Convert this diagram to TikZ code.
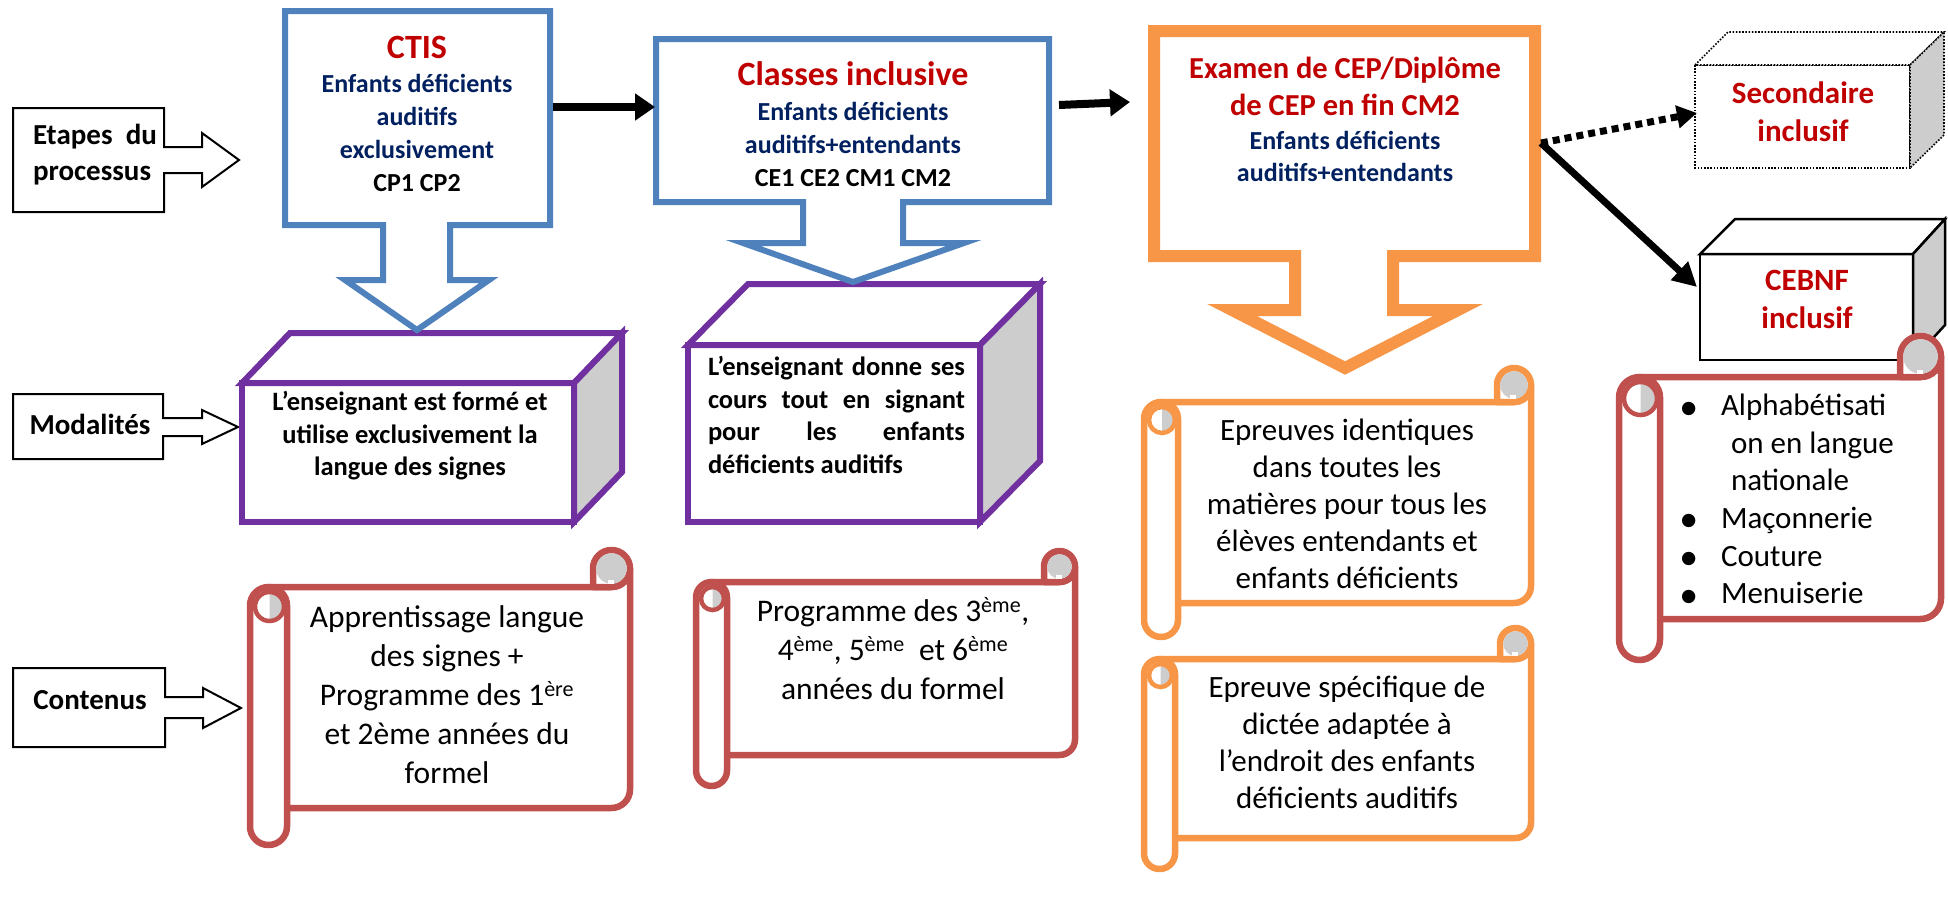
\documentclass[tikz,border=0pt]{standalone}
\usepackage{fontspec}
\setmainfont{Carlito}
\newfontfamily\dejavu{DejaVu Sans}
\usetikzlibrary{arrows.meta}
\definecolor{scrred}{HTML}{C0504D}
\definecolor{scrorange}{HTML}{F79646}
\definecolor{callblue}{HTML}{4F81BD}
\definecolor{boxpurple}{HTML}{7030A0}
\definecolor{titlered}{HTML}{C00000}
\definecolor{textblue}{HTML}{002060}
\definecolor{sidegray}{HTML}{CDCDCD}
\newcommand{\fsz}[2]{\fontsize{#1}{#2}\selectfont}
\tikzset{
  every node/.style={inner sep=0pt, outer sep=0pt},
  labelbox/.style={draw=black, line width=2pt, fill=white, line join=miter},
  labeltxt/.style={font=\fsz{29}{36}\bfseries},
  bluecall/.style={draw=callblue, line width=6pt, fill=white, line join=miter},
  orangecall/.style={draw=scrorange, line width=12pt, fill=white, line join=miter},
  purpleface/.style={draw=boxpurple, line width=6pt, fill=white, line join=miter},
  purpleside/.style={draw=boxpurple, line width=6pt, fill=sidegray, line join=miter},
  cubeface/.style={draw=black, line width=2.5pt, fill=white, line join=miter},
  cubeside/.style={draw=black, line width=2.5pt, fill=sidegray, line join=miter},
  dotface/.style={draw=black, line width=1.6pt, fill=white, dash pattern=on 1.6pt off 1.6pt},
  dotside/.style={draw=black, line width=1.6pt, fill=sidegray, dash pattern=on 1.6pt off 1.6pt},
  scrollline/.style={draw=#1, line width=6.5pt, fill=white, line join=round},
  scrollgray/.style={fill=sidegray},
  bigarrow/.style={line width=8pt, -{Triangle[length=20pt,width=26pt]}},
  diagarrow/.style={line width=7pt, -{Triangle[length=24pt,width=24pt]}},
  dotarrow/.style={line width=7pt, dash pattern=on 7pt off 5pt, -{Triangle[length=20pt,width=22pt]}},
  titletxt/.style={font=\fsz{34}{40}\bfseries, text=titlered, align=center},
  bluetxt/.style={font=\fsz{26}{33}\bfseries, text=textblue, align=center},
  redtxt/.style={font=\fsz{31}{38}\bfseries, text=titlered, align=center},
  purpletxt/.style={font=\fsz{26.5}{32.5}\bfseries, align=center},
  scrolltxt/.style={font=\fsz{31.5}{39}, align=center},
  scrolltxtb/.style={font=\fsz{31}{37}, align=center},
}
\newcommand{\bul}{\makebox[48pt][l]{\hspace*{8pt}\raisebox{2.5pt}{\dejavu\fontsize{17.5}{19}\selectfont ●}}}
% l t r b c colour
\newcommand{\drawscroll}[6]{%
  \pgfmathsetmacro{\scrH}{#5/2}%
  \filldraw[scrollline=#6] ({#1+\scrH},{#2+#5}) -- ({#3-\scrH},{#2+#5})
     arc[start angle=90,end angle=0,radius=\scrH] -- (#3,{#4-#5-\scrH})
     arc[start angle=0,end angle=90,radius=\scrH] -- ({#1+\scrH},{#4-#5}) -- cycle;
  \filldraw[scrollline=#6] ({#3-#5},{#2+#5}) -- ({#3-#5},{#2+\scrH})
     arc[start angle=180,end angle=450,radius=\scrH] -- cycle;
  \fill[scrollgray] ({#3-\scrH},{#2+\scrH}) circle[radius={\scrH-3.2}];
  \fill[white] ({#3-\scrH-4},{#2+#5-7}) rectangle ({#3-\scrH+2},{#2+#5-3.5});
  \filldraw[scrollline=#6, rounded corners={\scrH pt}] (#1,{#2+#5}) rectangle ({#1+#5},#4);
  \fill[scrollgray] ({#1+\scrH+1},{#2+#5+\scrH+1-(\scrH-5.5)})
     arc[start angle=270,end angle=450,radius={\scrH-5.5}] -- cycle;
  \draw[draw=#6, line width=4.5pt] ({#1+\scrH+1},{#2+#5+\scrH+1}) circle[radius={\scrH-4}];
}
\begin{document}
\begin{tikzpicture}[x=1pt,y=-1pt]
\useasboundingbox (0,0) rectangle (1948,902);

% ---------- left labels ----------
\filldraw[labelbox] (13,108) -- (164,108) -- (164,147) -- (202,147) -- (202,133) -- (239,160)
   -- (202,187) -- (202,173) -- (164,173) -- (164,212) -- (13,212) -- cycle;
\node[labeltxt, anchor=west, align=left] (etapes) at (33,155) {\makebox[124pt][s]{Etapes du}\\processus};

\filldraw[labelbox] (13,394) -- (163,394) -- (163,418) -- (202,418) -- (202,410) -- (238,427)
   -- (202,444) -- (202,436) -- (163,436) -- (163,459) -- (13,459) -- cycle;
\node[labeltxt] (modal) at (90,424) {Modalités};

\filldraw[labelbox] (13,668) -- (165,668) -- (165,697) -- (203,697) -- (203,688) -- (241,708)
   -- (203,728) -- (203,718) -- (165,718) -- (165,747) -- (13,747) -- cycle;
\node[labeltxt] (contenus) at (90,700) {Contenus};

% ---------- purple boxes ----------
\filldraw[purpleface] (242,383) rectangle (574,522);
\filldraw[purpleface] (242,383) -- (290,333) -- (622,333) -- (574,383) -- cycle;
\filldraw[purpleside] (574,383) -- (622,333) -- (622,472) -- (574,522) -- cycle;
\node[purpletxt] (mod1) at (410,436) {L’enseignant est formé et\\utilise exclusivement la\\langue des signes};

\filldraw[purpleface] (688,345) rectangle (980,522);
\filldraw[purpleface] (688,345) -- (748,284) -- (1040,284) -- (980,345) -- cycle;
\filldraw[purpleside] (980,345) -- (1040,284) -- (1040,461) -- (980,522) -- cycle;
\node[purpletxt, align=left, anchor=west] (mod2) at (708,415)
  {\makebox[257pt][s]{L’enseignant donne ses}\\\makebox[257pt][s]{cours tout en signant}\\\makebox[257pt][s]{pour les enfants}\\déficients auditifs};

% ---------- callouts ----------
\filldraw[bluecall] (285,11) -- (550,11) -- (550,225) -- (450,225) -- (450,280) -- (489,280)
   -- (417,330) -- (345,280) -- (383,280) -- (383,225) -- (285,225) -- cycle;
\node[titletxt] (ctisT) at (417,47) {CTIS};
\node[bluetxt] (ctisB) at (417,133) {Enfants déficients\\auditifs\\exclusivement\\\textcolor{black}{CP1 CP2}};

\filldraw[bluecall] (656,39) -- (1049,39) -- (1049,202) -- (903,202) -- (903,243) -- (964,243)
   -- (853,282) -- (743,243) -- (803,243) -- (803,202) -- (656,202) -- cycle;
\node[titletxt] (clsT) at (853,74) {Classes inclusive};
\node[bluetxt] (clsB) at (853,144) {Enfants déficients\\auditifs+entendants\\\textcolor{black}{CE1 CE2 CM1 CM2}};

\filldraw[orangecall] (1154,31) -- (1535,31) -- (1535,256) -- (1393,256) -- (1393,310) -- (1458,310)
   -- (1345,368) -- (1232,310) -- (1295,310) -- (1295,256) -- (1154,256) -- cycle;
\node[font=\fsz{30.5}{37}\bfseries, text=titlered, align=center] (exT) at (1345,86) {Examen de CEP/Diplôme\\de CEP en fin CM2};
\node[font=\fsz{26}{32}\bfseries, text=textblue, align=center] (exB) at (1345,156) {Enfants déficients\\auditifs+entendants};

% ---------- cubes ----------
\filldraw[dotface] (1695,65) rectangle (1910,168);
\filldraw[dotface] (1695,65) -- (1728,32) -- (1944,32) -- (1910,65) -- cycle;
\filldraw[dotside] (1910,65) -- (1944,32) -- (1944,135) -- (1910,168) -- cycle;
\node[redtxt] (secT) at (1803,112) {Secondaire\\inclusif};

\filldraw[cubeface] (1700,254) rectangle (1913,360);
\filldraw[cubeface] (1700,254) -- (1735,219) -- (1945,219) -- (1913,254) -- cycle;
\filldraw[cubeside] (1913,254) -- (1945,219) -- (1945,325) -- (1913,360) -- cycle;
\node[redtxt] (cebT) at (1807,299) {CEBNF\\inclusif};

% ---------- connectors ----------
\coordinate (ctisR) at (553,107);
\coordinate (clsL) at (655,107);
\coordinate (clsR) at (1059,105);
\coordinate (exL) at (1130,102);
\coordinate (exR) at (1541,143);
\coordinate (secL) at (1697,113);
\coordinate (cebL) at (1697,287);
\draw[bigarrow] (ctisR) -- (clsL);
\draw[bigarrow] (clsR) -- (exL);
\draw[dotarrow] (exR) -- (secL);
\draw[diagarrow] (exR) -- (cebL);

% ---------- scrolls ----------
\drawscroll{250}{550}{630}{845}{37}{scrred}
\node[scrolltxt] (cont1) at (447,695) {Apprentissage langue\\des signes +\\Programme des 1\textsuperscript{ère}\\et 2ème années du\\formel};

\drawscroll{696}{551}{1075}{786}{31}{scrred}
\node[scrolltxt] (cont2) at (893,649) {Programme des 3\textsuperscript{ème},\\4\textsuperscript{ème}, 5\textsuperscript{ème}\ \ et 6\textsuperscript{ème}\\années du formel};

\drawscroll{1144}{368}{1531}{637}{34}{scrorange}
\node[scrolltxtb] (ep1) at (1347,504) {Epreuves identiques\\dans toutes les\\matières pour tous les\\élèves entendants et\\enfants déficients};

\drawscroll{1144}{628}{1531}{869}{31}{scrorange}
\node[scrolltxtb] (ep2) at (1347,742) {Epreuve spécifique de\\dictée adaptée à\\l’endroit des enfants\\déficients auditifs};

\drawscroll{1619}{336}{1941}{660}{41}{scrred}
\node[font=\fsz{31}{37.6}, align=left, anchor=west] (cebList) at (1673,499)
  {\bul Alphabétisati\\
   \hspace*{58pt}on en langue\\
   \hspace*{58pt}nationale\\
   \bul Maçonnerie\\
   \bul Couture\\
   \bul Menuiserie};
\end{tikzpicture}
\end{document}
